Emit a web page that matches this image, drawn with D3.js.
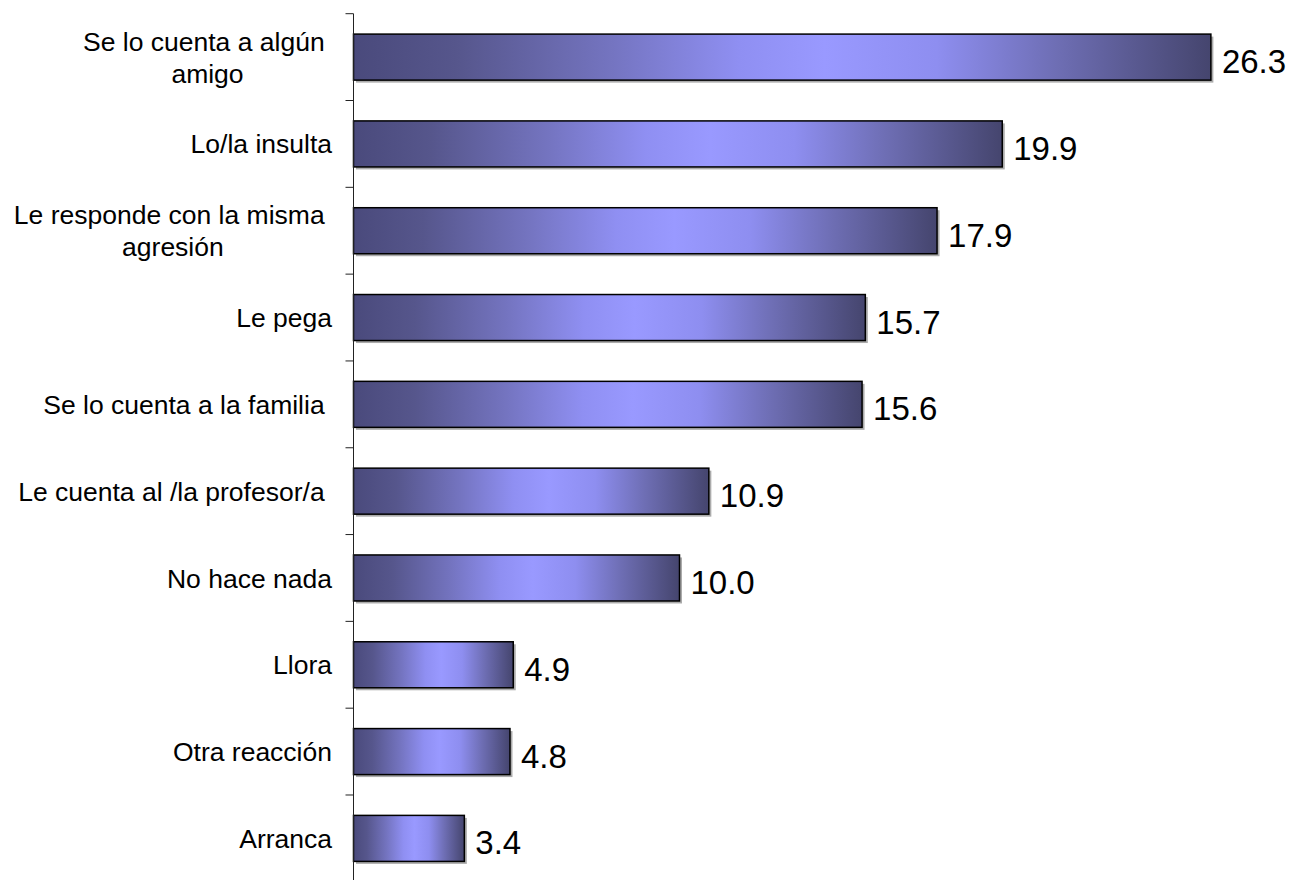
<!DOCTYPE html>
<html>
<head>
<meta charset="utf-8">
<script src="https://cdn.jsdelivr.net/npm/d3@7"></script>
<style>
  html, body { margin: 0; padding: 0; background: #fff; }
  svg { display: block; }
  text { font-family: "Liberation Sans", Arial, sans-serif; fill: #000; white-space: pre; }
</style>
</head>
<body>
<svg id="chart" width="1294" height="880"></svg>
<script>
const categories = [
  ["Se lo cuenta a algún ", "amigo"],
  ["Lo/la insulta"],
  ["Le responde con la misma ", "agresión"],
  ["Le pega"],
  ["Se lo cuenta a la familia "],
  ["Le cuenta al /la profesor/a "],
  ["No hace nada"],
  ["Llora"],
  ["Otra reacción"],
  ["Arranca"]
];
const values = [26.3, 19.9, 17.9, 15.7, 15.6, 10.9, 10.0, 4.9, 4.8, 3.4];
const valueLabels = ["26.3", "19.9", "17.9", "15.7", "15.6", "10.9", "10.0", "4.9", "4.8", "3.4"];

const svg = d3.select("#chart");
const axisX = 353.5;
const keys = categories.map((c, i) => i);

const x = d3.scaleLinear().domain([0, 30]).range([axisX, axisX + 978]);
const y = d3.scaleBand().domain(keys).range([13.7, 881.8]).paddingInner(0.47).paddingOuter(0.235);

// gradient
const defs = svg.append("defs");
const grad = defs.append("linearGradient").attr("id", "barGrad")
  .attr("x1", "0").attr("x2", "1").attr("y1", "0").attr("y2", "0");
[[0, "#4a4a7c"], [0.12, "#56568c"], [0.3, "#7474c0"], [0.45, "#8f8ff2"], [0.55, "#9999ff"], [0.68, "#8e8ef0"], [0.82, "#6e6eb4"], [1, "#45456e"]]
  .forEach(([o, c]) => grad.append("stop").attr("offset", o).attr("stop-color", c));

// shadows
svg.append("g").selectAll("rect").data(values).join("rect")
  .attr("x", x(0) + 2.5)
  .attr("y", (d, i) => y(i) + 2.5)
  .attr("width", d => x(d) - x(0))
  .attr("height", y.bandwidth())
  .attr("fill", "#ababab");

// bars
svg.append("g").selectAll("rect").data(values).join("rect")
  .attr("x", x(0))
  .attr("y", (d, i) => y(i))
  .attr("width", d => x(d) - x(0))
  .attr("height", y.bandwidth())
  .attr("fill", "url(#barGrad)")
  .attr("stroke", "#000")
  .attr("stroke-width", 1.5);

// axis line and ticks at band boundaries
const step = y.step();
const yTop = y.range()[0];
svg.append("line")
  .attr("x1", axisX).attr("x2", axisX)
  .attr("y1", yTop).attr("y2", 880)
  .attr("stroke", "#222").attr("stroke-width", 1);
const tickYs = keys.map(i => yTop + i * step);
svg.append("g").selectAll("line").data(tickYs).join("line")
  .attr("x1", axisX - 8).attr("x2", axisX)
  .attr("y1", d => d).attr("y2", d => d)
  .attr("stroke", "#222").attr("stroke-width", 1);

// category labels
const labelRight = 332;
const lineH = 32;
const lg = svg.append("g");
categories.forEach((lines, i) => {
  const cy = y(i) + y.bandwidth() / 2;
  const g = lg.append("g");
  const texts = lines.map(l => g.append("text").attr("font-size", 26.5).text(l));
  const widths = texts.map(t => t.node().getComputedTextLength());
  const maxW = Math.max(...widths);
  const n = lines.length;
  texts.forEach((t, k) => {
    const ly = cy + (k - (n - 1) / 2) * lineH;
    // center each line inside a right-aligned block
    const lx = labelRight - maxW / 2 - widths[k] / 2;
    t.attr("x", lx).attr("y", ly).attr("dy", "0.36em");
  });
});

// value labels
svg.append("g").selectAll("text").data(values).join("text")
  .attr("x", d => x(d) + 11)
  .attr("y", (d, i) => y(i) + y.bandwidth() / 2 + 16)
  .attr("font-size", 33)
  .text((d, i) => valueLabels[i]);
</script>
</body>
</html>
